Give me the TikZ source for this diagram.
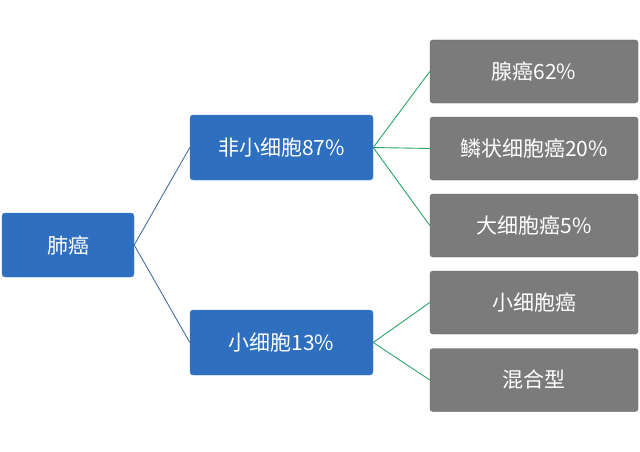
\documentclass[tikz,border=0pt]{standalone}
\usepackage{fontspec}
\setmainfont{Noto Sans CJK SC}
\definecolor{bluebox}{HTML}{2E6FC0}
\definecolor{blueedge}{HTML}{4A86D0}
\definecolor{greybox}{HTML}{7B7B7B}
\definecolor{greyedge}{HTML}{5E5E5E}
\definecolor{bline}{HTML}{4A6FA8}
\definecolor{gline}{HTML}{2BA66A}
\begin{document}
\begin{tikzpicture}[x=1pt,y=-1pt,
  bbox/.style={draw=blueedge,fill=bluebox,rounded corners=3pt,text=white,font=\fontsize{21}{24}\selectfont,inner sep=0pt},
  gbox/.style={draw=greyedge,fill=greybox,rounded corners=3pt,text=white,font=\fontsize{21}{24}\selectfont,inner sep=0pt,minimum width=208pt,minimum height=63pt},
  bl/.style={draw=bline,line width=0.9pt},
  gl/.style={draw=gline,line width=0.9pt}]
\useasboundingbox[fill=white] (0,0) rectangle (640,452);
\node[bbox,minimum width=132pt,minimum height=64pt] (root) at (68,245) {肺癌};
\node[bbox,minimum width=183pt,minimum height=65pt] (nsc) at (281.5,147.5) {非小细胞87\%};
\node[bbox,minimum width=183pt,minimum height=65pt] (sc) at (281.5,342.5) {小细胞13\%};
\node[gbox] (g1) at (534,71.5) {腺癌62\%};
\node[gbox] (g2) at (534,148.5) {鳞状细胞癌20\%};
\node[gbox] (g3) at (534,225.5) {大细胞癌5\%};
\node[gbox] (g4) at (534,302.5) {小细胞癌};
\node[gbox] (g5) at (534,380) {混合型};
\draw[bl] (root.east) -- (nsc.west);
\draw[bl] (root.east) -- (sc.west);
\foreach \g in {g1,g2,g3} \draw[gl] (nsc.east) -- (\g.west);
\foreach \g in {g4,g5} \draw[gl] (sc.east) -- (\g.west);
\end{tikzpicture}
\end{document}
